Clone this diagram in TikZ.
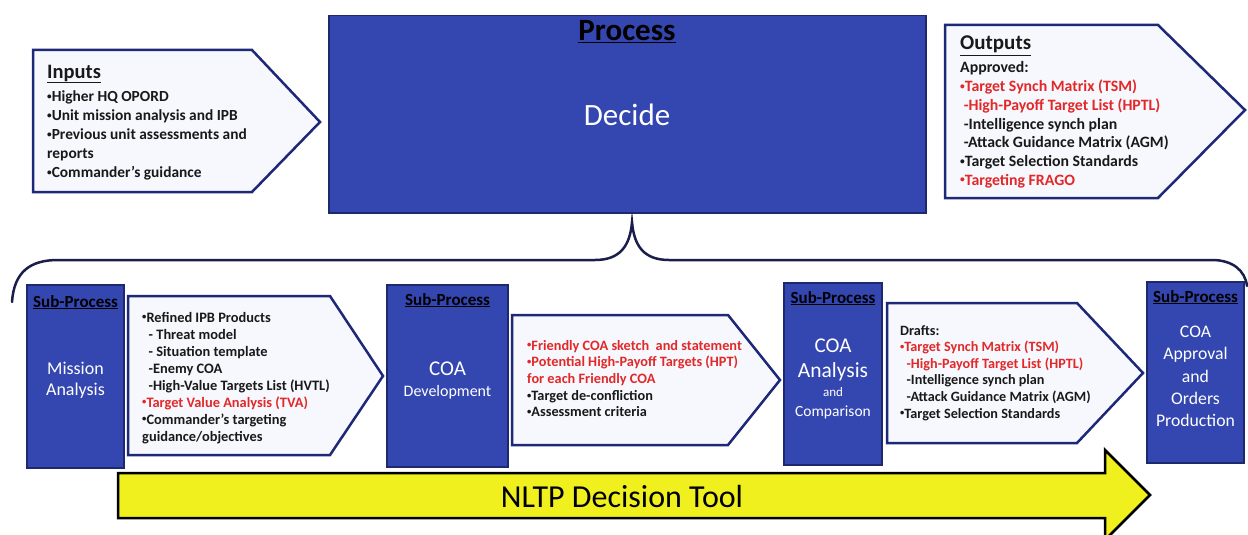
\documentclass[tikz,border=0pt]{standalone}
\usepackage{fontspec}
\usepackage{graphicx}
\setmainfont{Carlito}
\definecolor{boxblue}{RGB}{52,70,176}
\definecolor{boxedge}{RGB}{30,40,110}
\definecolor{pentedge}{RGB}{30,40,120}
\definecolor{pentfill}{RGB}{246,248,253}
\definecolor{redtxt}{RGB}{226,40,40}
\definecolor{txt}{RGB}{25,25,25}
\definecolor{yel}{RGB}{240,240,30}
\definecolor{bracecol}{RGB}{25,30,75}
\newcommand{\rd}[1]{\textcolor{redtxt}{#1}}
\newcommand{\bul}{\raisebox{0.3ex}{\scalebox{0.6}{•}}}
\newcommand{\lst}[1]{\begin{tabular}[t]{@{}l@{}}#1\end{tabular}}
\begin{document}
\begin{tikzpicture}[x=1pt,y=-1pt,
  bluebox/.style={draw=boxedge,fill=boxblue,line width=1.5pt},
  pentbox/.style={draw=pentedge,fill=pentfill,line width=2.5pt,line join=miter},
  listtext/.style={anchor=base west,inner sep=0pt,text=txt},
  ttl/.style={anchor=base west,inner sep=0pt,text=txt,font=\bfseries\fontsize{20.5}{22}\selectfont},
  subhdr/.style={anchor=base,inner sep=0pt,text=black,font=\bfseries\fontsize{17}{18}\selectfont},
  wt/.style={anchor=base,inner sep=0pt,text=white},
  bracestyle/.style={draw=bracecol,line width=2.5pt,line cap=round}
]
\useasboundingbox (0,0) rectangle (1248,535);

% Inputs
\draw[pentbox] (33,50) -- (252,50) -- (320,122) -- (252,192) -- (33,192) -- cycle;
\node[ttl] (inttl) at (47,78) {\underline{Inputs}};
\node[listtext,font=\bfseries\fontsize{15.4}{19}\selectfont] (intxt) at (47,102) {\lst{\bul Higher HQ OPORD\\\bul Unit mission analysis and IPB\\\bul Previous unit assessments and\\reports\\\bul Commander’s guidance}};

% Process
\node[bluebox,anchor=north west,minimum width=597pt,minimum height=197pt,inner sep=0pt] (proc) at (328,15) {};
\node[anchor=base,inner sep=0pt,text=black,font=\bfseries\fontsize{31}{33}\selectfont] (procttl) at (627,41) {\underline{Process}};
\node[inner sep=0pt,text=white,font=\fontsize{31}{33}\selectfont] (decide) at (627,115) {Decide};

% Outputs
\draw[pentbox] (945,25) -- (1158,25) -- (1245,110) -- (1158,198) -- (945,198) -- cycle;
\node[ttl,font=\bfseries\fontsize{21}{22}\selectfont] (outttl) at (960,50) {\underline{Outputs}};
\node[listtext,font=\bfseries\fontsize{15.8}{18.7}\selectfont] (outtxt) at (960,73) {\lst{Approved:\\\rd{\bul Target Synch Matrix (TSM)}\\\ \rd{-High-Payoff Target List (HPTL)}\\\ -Intelligence synch plan\\\ -Attack Guidance Matrix (AGM)\\\bul Target Selection Standards\\\rd{\bul Targeting FRAGO}}};

% Brace
\coordinate (brL) at (12,302);
\coordinate (brTip) at (632,222);
\coordinate (brR) at (1247,286);
\draw[bracestyle] (brL) .. controls (14,272) and (30,260) .. (58,260) -- (595,260) .. controls (620,260) and (630,246) .. (brTip)
  .. controls (634,246) and (644,260) .. (669,260) -- (1212,260) .. controls (1232,260) and (1245,270) .. (brR);

% Sub-process boxes
\draw[bluebox] (27,285) rectangle (124,468);
\draw[bluebox] (387,285) rectangle (508,467);
\draw[bluebox] (784,283) rectangle (882,465);
\draw[bluebox] (1147,282) rectangle (1244,463);
\node[subhdr] (h1) at (75.5,307) {\underline{Sub-Process}};
\node[subhdr] (h2) at (447.5,305) {\underline{Sub-Process}};
\node[subhdr] (h3) at (833,303) {\underline{Sub-Process}};
\node[subhdr] (h4) at (1195.5,302) {\underline{Sub-Process}};

\node[wt,font=\fontsize{18}{20}\selectfont] (b1a) at (75.5,374) {Mission};
\node[wt,font=\fontsize{18}{20}\selectfont] (b1b) at (75.5,395) {Analysis};

\node[wt,font=\fontsize{21}{23}\selectfont] (b2a) at (447.5,375) {COA};
\node[wt,font=\fontsize{16}{18}\selectfont] (b2b) at (447.5,396) {Development};

\node[wt,font=\fontsize{21}{23}\selectfont] (b3a) at (833,352) {COA};
\node[wt,font=\fontsize{21.5}{23}\selectfont] (b3b) at (833,377) {Analysis};
\node[wt,font=\fontsize{13}{14}\selectfont] (b3c) at (833,396) {and};
\node[wt,font=\fontsize{15.5}{17}\selectfont] (b3d) at (833,416) {Comparison};

\node[wt,font=\fontsize{17.7}{19}\selectfont] (b4a) at (1195.5,337) {COA};
\node[wt,font=\fontsize{17.7}{19}\selectfont] (b4b) at (1195.5,359) {Approval};
\node[wt,font=\fontsize{17.7}{19}\selectfont] (b4c) at (1195.5,382) {and};
\node[wt,font=\fontsize{17.7}{19}\selectfont] (b4d) at (1195.5,404) {Orders};
\node[wt,font=\fontsize{17.7}{19}\selectfont] (b4e) at (1195.5,426) {Production};

% Lower pentagons
\draw[pentbox] (128,296) -- (330,296) -- (383,376) -- (330,455) -- (128,455) -- cycle;
\node[listtext,font=\bfseries\fontsize{14.4}{17}\selectfont] (p1) at (142,322) {\lst{\bul Refined IPB Products\\\ \ - Threat model\\\ \ - Situation template\\\ \ -Enemy COA\\\ \ -High-Value Targets List (HVTL)\\\rd{\bul Target Value Analysis (TVA)}\\\bul Commander’s targeting\\guidance/objectives}};

\draw[pentbox] (512,315) -- (728,315) -- (780,380) -- (728,445) -- (512,445) -- cycle;
\node[listtext,font=\bfseries\fontsize{14.3}{16.7}\selectfont] (p2) at (527,350) {\lst{\rd{\bul Friendly COA sketch\ \ and statement}\\\rd{\bul Potential High-Payoff Targets (HPT)}\\\rd{for each Friendly COA}\\\bul Target de-confliction\\\bul Assessment criteria}};

\draw[pentbox] (887,303) -- (1077,303) -- (1143,373) -- (1077,443) -- (887,443) -- cycle;
\node[listtext,font=\bfseries\fontsize{14.2}{16.6}\selectfont] (p3) at (900,335) {\lst{Drafts:\\\rd{\bul Target Synch Matrix (TSM)}\\\ \ \rd{-High-Payoff Target List (HPTL)}\\\ \ -Intelligence synch plan\\\ \ -Attack Guidance Matrix (AGM)\\\bul Target Selection Standards}};

% Yellow arrow
\draw[draw=black,fill=yel,line width=2.5pt,line join=miter] (118,473) -- (1105,473) -- (1105,450) -- (1150,495) -- (1105,540) -- (1105,518) -- (118,518) -- cycle;
\node[inner sep=0pt,text=black,font=\fontsize{32}{34}\selectfont] (nltp) at (622,497) {NLTP Decision Tool};
\end{tikzpicture}
\end{document}
